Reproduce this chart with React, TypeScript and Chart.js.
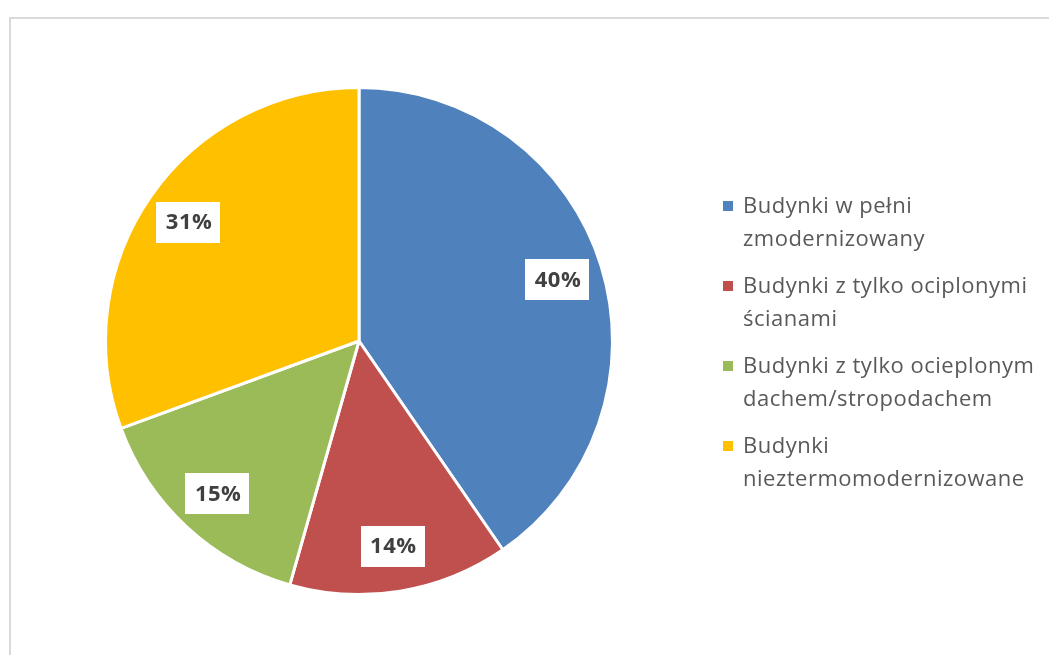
import React, { useEffect, useRef } from "react";
import { Chart, registerables } from "chart.js";

Chart.register(...registerables);

const categories = [
  "Budynki w pełni\nzmodernizowany",
  "Budynki z tylko ociplonymi\nścianami",
  "Budynki z tylko ocieplonym\ndachem/stropodachem",
  "Budynki\nnieztermomodernizowane",
];
const shares = [40.4, 14.0, 15.0, 30.6];
const sliceColors = ["#4F81BD", "#C0504D", "#9BBB59", "#FFC000"];

const LEGEND_FONT = '22px "Open Sans", sans-serif';
const LABEL_FONT = 'bold 22px "Open Sans", sans-serif';

const labelPlugin = {
  id: "sliceLabels",
  afterDatasetsDraw(chart: any) {
    const ctx = chart.ctx;
    const meta = chart.getDatasetMeta(0);
    const ds = chart.data.datasets[0];
    ctx.save();
    ctx.font = LABEL_FONT;
    (ctx as any).letterSpacing = "0.5px";
    ctx.textAlign = "center";
    ctx.textBaseline = "middle";
    meta.data.forEach((arc: any, i: number) => {
      const { x, y, startAngle, endAngle, outerRadius } = arc.getProps(
        ["x", "y", "startAngle", "endAngle", "outerRadius"],
        true
      );
      const mid = (startAngle + endAngle) / 2;
      const r = outerRadius * 0.82;
      const cx = x + Math.cos(mid) * r;
      const cy = y + Math.sin(mid) * r;
      const text = Math.round(ds.data[i]) + "%";
      const w = ctx.measureText(text).width + 18;
      const h = 41;
      ctx.fillStyle = "#ffffff";
      ctx.fillRect(Math.round(cx - w / 2), Math.round(cy - h / 2), Math.round(w), h);
      ctx.fillStyle = "#404040";
      ctx.fillText(text, cx + 0.5, cy + 1);
    });
    ctx.restore();
  },
};

const legendPlugin = {
  id: "sideLegend",
  afterDraw(chart: any) {
    const ctx = chart.ctx;
    const area = chart.chartArea;
    const labels: string[] = chart.data.labels;
    const colors: string[] = chart.data.datasets[0].backgroundColor;
    const lineH = 33;
    const groupStep = 80;
    const centerY = (area.top + area.bottom) / 2;
    const firstY = centerY - (groupStep * (labels.length - 1) + lineH) / 2;
    const boxX = 723;
    const textX = 743;
    ctx.save();
    ctx.font = LEGEND_FONT;
    (ctx as any).letterSpacing = "0.5px";
    ctx.textBaseline = "middle";
    ctx.textAlign = "left";
    labels.forEach((lab, i) => {
      const y0 = firstY + i * groupStep;
      ctx.fillStyle = colors[i];
      ctx.fillRect(boxX, Math.round(y0 - 4), 10, 10);
      ctx.fillStyle = "#595959";
      lab.split("\n").forEach((line, j) => {
        ctx.fillText(line, textX, y0 + j * lineH + 2);
      });
    });
    ctx.restore();
  },
};

export default function App() {
  const ref = useRef<HTMLCanvasElement>(null);
  useEffect(() => {
    if (!ref.current) return;
    const chart = new Chart(ref.current, {
      type: "pie",
      data: {
        labels: categories,
        datasets: [
          {
            data: shares,
            backgroundColor: sliceColors,
            borderColor: "#ffffff",
            borderWidth: 3,
          },
        ],
      },
      options: {
        animation: false,
        responsive: false,
        maintainAspectRatio: false,
        layout: { padding: { left: 104, top: 86, right: 435, bottom: 59 } },
        plugins: {
          legend: { display: false },
          tooltip: { enabled: false },
        },
      },
      plugins: [labelPlugin, legendPlugin],
    });
    return () => chart.destroy();
  }, []);
  return (
    <div
      style={{
        position: "fixed",
        left: 0,
        top: 0,
        width: 1049,
        height: 655,
        overflow: "hidden",
        background: "#ffffff",
      }}
    >
      <div
        style={{
          position: "absolute",
          left: 9,
          top: 17,
          width: 1200,
          height: 800,
          borderTop: "2px solid #d9d9d9",
          borderLeft: "2px solid #d9d9d9",
        }}
      />
      <canvas
        ref={ref}
        width={1049}
        height={655}
        style={{ position: "absolute", left: 0, top: 0, width: 1049, height: 655 }}
      />
    </div>
  );
}
